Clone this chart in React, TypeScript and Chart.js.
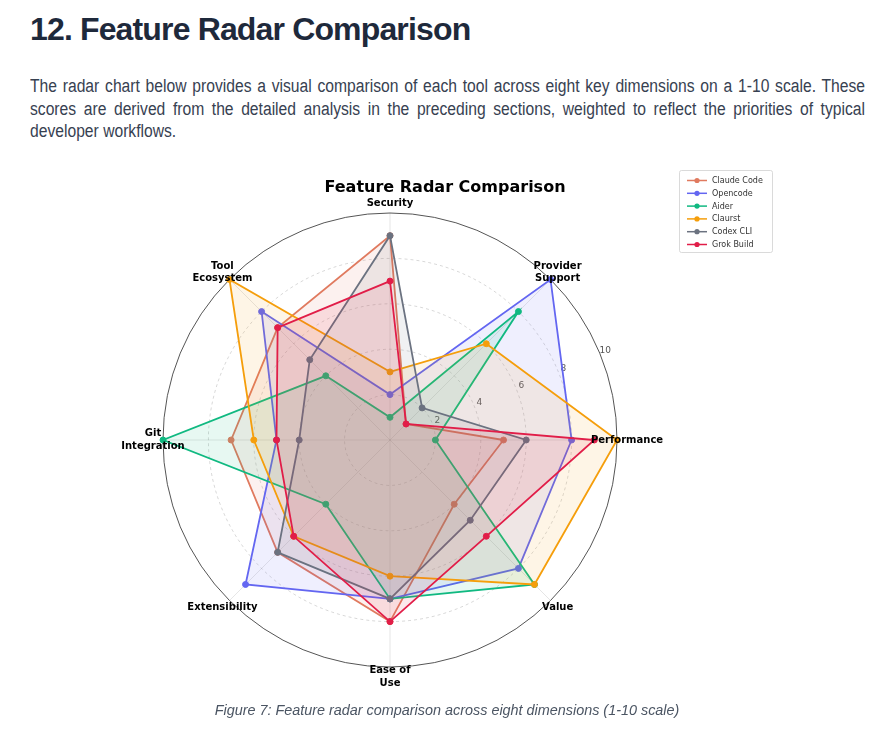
import React, { useEffect, useRef } from "react";
import { Chart, registerables } from "chart.js";

Chart.register(...registerables);

// ---- data ----
const dimensions = [
  "Security",
  "Provider Support",
  "Performance",
  "Value",
  "Ease of Use",
  "Extensibility",
  "Git Integration",
  "Tool Ecosystem",
];
const dimensionLabelLines = [
  ["Security"],
  ["Provider", "Support"],
  ["Performance"],
  ["Value"],
  ["Ease of", "Use"],
  ["Extensibility"],
  ["Git", "Integration"],
  ["Tool", "Ecosystem"],
];
const toolNames = ["Claude Code", "Opencode", "Aider", "Claurst", "Codex CLI", "Grok Build"];
const claudeCodeScores = [9, 1, 5, 4, 8, 7, 7, 7];
const opencodeScores = [2, 10, 8, 8, 7, 9, 5, 8];
const aiderScores = [1, 8, 2, 9, 7, 4, 10, 4];
const claurstScores = [3, 6, 10, 9, 6, 6, 6, 10];
const codexCliScores = [9, 2, 6, 5, 7, 7, 4, 5];
const grokBuildScores = [7, 1, 9, 6, 8, 6, 5, 7];
const toolScores = [
  claudeCodeScores,
  opencodeScores,
  aiderScores,
  claurstScores,
  codexCliScores,
  grokBuildScores,
];
const toolColors = ["#e07a5f", "#6366f1", "#10b981", "#f59e0b", "#6b7280", "#e11d48"];
const tickValues = [2, 4, 6, 8, 10];
const chartTitle = "Feature Radar Comparison";

const paragraphLines = [
  "The radar chart below provides a visual comparison of each tool across eight key dimensions on a 1-10 scale. These",
  "scores are derived from the detailed analysis in the preceding sections, weighted to reflect the priorities of typical",
  "developer workflows.",
];

// ---- layout (canvas coords) ----
const CANVAS_W = 890;
const CANVAS_H = 560;
const CENTER_X = 390;
const CENTER_Y = 290;
const RADIUS = 227;

function rgba(hex: string, a: number) {
  const n = parseInt(hex.slice(1), 16);
  return `rgba(${(n >> 16) & 255},${(n >> 8) & 255},${n & 255},${a})`;
}

const overlayPlugin = {
  id: "radarOverlay",
  beforeDatasetsDraw(chart: any) {
    const scale = chart.scales.r;
    const ctx = chart.ctx;
    ctx.save();
    ctx.font = "9px 'DejaVu Sans'";
    ctx.fillStyle = "#555";
    ctx.textAlign = "center";
    ctx.textBaseline = "middle";
    const ang = (22.5 * Math.PI) / 180;
    tickValues.forEach((v) => {
      const d = scale.getDistanceFromCenterForValue(v) + 6;
      ctx.fillText(String(v), scale.xCenter + Math.cos(ang) * d, scale.yCenter - Math.sin(ang) * d);
    });
    ctx.restore();
  },
  afterDraw(chart: any) {
    const scale = chart.scales.r;
    const ctx = chart.ctx;
    ctx.save();
    // point labels
    ctx.font = "bold 10px 'DejaVu Sans'";
    ctx.fillStyle = "#000";
    ctx.textAlign = "center";
    ctx.textBaseline = "middle";
    dimensionLabelLines.forEach((lines, i) => {
      const p = scale.getPointPosition(i, scale.drawingArea + 10);
      const lh = 12.5;
      lines.forEach((ln, j) => {
        ctx.fillText(ln, p.x, p.y + (j - (lines.length - 1) / 2) * lh);
      });
    });
    // legend
    const lx = 679;
    const ly = 20;
    const lw = 93;
    const lh = 82;
    ctx.fillStyle = "rgba(255,255,255,0.85)";
    ctx.strokeStyle = "#d0d0d0";
    ctx.lineWidth = 0.8;
    ctx.beginPath();
    (ctx as any).roundRect ? (ctx as any).roundRect(lx + 0.5, ly + 0.5, lw, lh, 2) : ctx.rect(lx + 0.5, ly + 0.5, lw, lh);
    ctx.fill();
    ctx.stroke();
    ctx.font = "8px 'DejaVu Sans'";
    ctx.textAlign = "left";
    ctx.textBaseline = "middle";
    chart.data.datasets.forEach((ds: any, i: number) => {
      const y = ly + 10.5 + i * 12.8;
      ctx.strokeStyle = ds.borderColor;
      ctx.lineWidth = 1.5;
      ctx.beginPath();
      ctx.moveTo(lx + 8, y);
      ctx.lineTo(lx + 28, y);
      ctx.stroke();
      ctx.fillStyle = ds.borderColor;
      ctx.beginPath();
      ctx.arc(lx + 18, y, 2.6, 0, Math.PI * 2);
      ctx.fill();
      ctx.fillStyle = "#333";
      ctx.fillText(ds.label, lx + 33, y + 0.5);
    });
    ctx.restore();
  },
};

function RadarChart() {
  const ref = useRef<HTMLCanvasElement | null>(null);
  useEffect(() => {
    if (!ref.current) return;
    const chart = new Chart(ref.current, {
      type: "radar",
      data: {
        labels: dimensions,
        datasets: toolNames.map((name, i) => ({
          label: name,
          data: toolScores[i],
          borderColor: toolColors[i],
          backgroundColor: rgba(toolColors[i], 0.1),
          pointBackgroundColor: toolColors[i],
          pointBorderColor: toolColors[i],
          pointRadius: 3,
          pointBorderWidth: 1,
          borderWidth: 1.8,
          fill: true,
          order: toolNames.length - i,
        })),
      },
      options: {
        animation: false,
        responsive: false,
        devicePixelRatio: 1,
        layout: { padding: { top: 28 } },
        plugins: {
          legend: { display: false },
          tooltip: { enabled: false },
          title: {
            display: true,
            text: chartTitle,
            color: "#000",
            font: { family: "'DejaVu Sans'", size: 16, weight: "bold" },
            padding: { top: 0, bottom: 0 },
          },
        },
        scales: {
          r: {
            min: 0,
            max: 10,
            ticks: { stepSize: 2, display: false },
            pointLabels: { display: false },
            grid: {
              circular: true,
              color: (c: any) => (c.tick && c.tick.value === 10 ? "#555" : "rgba(0,0,0,0.2)"),
              lineWidth: (c: any) => (c.tick && c.tick.value === 10 ? 1 : 0.8),
            },
            border: {
              dash: (c: any) => (c.tick && c.tick.value === 10 ? [] : [3, 3]),
            },
            angleLines: { color: "rgba(0,0,0,0.13)", lineWidth: 0.8 },
            afterFit: (scale: any) => {
              scale.xCenter = CENTER_X;
              scale.yCenter = CENTER_Y;
              scale.drawingArea = RADIUS;
            },
          },
        },
      },
      plugins: [overlayPlugin],
    } as any);
    return () => chart.destroy();
  }, []);
  return (
    <canvas
      ref={ref}
      width={CANVAS_W}
      height={CANVAS_H}
      style={{ position: "absolute", left: 0, top: 150, width: CANVAS_W, height: CANVAS_H }}
    />
  );
}

const PARA_SCALE = 0.87;

export default function App() {
  return (
    <div style={{ width: 890, height: 740, background: "#fff" }}>
      <div
        style={{
          position: "absolute",
          left: 30,
          top: 11,
          fontFamily: "'Liberation Sans', Arial, sans-serif",
          fontWeight: "bold",
          fontSize: 32,
          lineHeight: "36px",
          letterSpacing: "-0.85px",
          color: "#1e293b",
          whiteSpace: "nowrap",
        }}
      >
        12. Feature Radar Comparison
      </div>
      <div
        style={{
          position: "absolute",
          left: 30,
          top: 75,
          width: 835 / PARA_SCALE,
          transform: `scaleX(${PARA_SCALE})`,
          transformOrigin: "0 0",
          fontFamily: "'Liberation Sans', Arial, sans-serif",
          fontSize: 18,
          lineHeight: "22.7px",
          color: "#374151",
        }}
      >
        {paragraphLines.map((ln, i) => (
          <div
            key={i}
            style={{
              textAlign: i < paragraphLines.length - 1 ? "justify" : "left",
              textAlignLast: i < paragraphLines.length - 1 ? "justify" : "left",
            } as any}
          >
            {ln}
          </div>
        ))}
      </div>
      <RadarChart />
      <div
        style={{
          position: "absolute",
          left: 2,
          top: 702,
          width: 890,
          textAlign: "center",
          fontFamily: "'Liberation Sans', Arial, sans-serif",
          fontStyle: "italic",
          fontSize: 14.4,
          lineHeight: "16px",
          color: "#4b5563",
        }}
      >
        Figure 7: Feature radar comparison across eight dimensions (1-10 scale)
      </div>
    </div>
  );
}
